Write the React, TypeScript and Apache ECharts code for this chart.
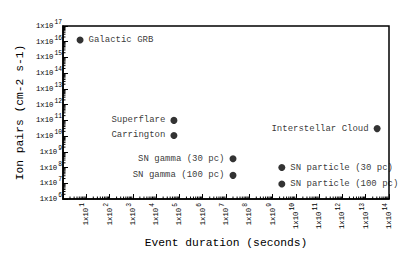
import React, { useEffect, useRef } from "react";
import * as echarts from "echarts";

const eventNames = [
  "Galactic GRB",
  "Superflare",
  "Carrington",
  "SN gamma (30 pc)",
  "SN gamma (100 pc)",
  "SN particle (30 pc)",
  "SN particle (100 pc)",
  "Interstellar Cloud",
];
const durations = [5.4, 5.8e4, 5.8e4, 2.0e7, 2.0e7, 2.5e9, 2.5e9, 3.1e13];
const ionPairs = [1.3e16, 1.0e11, 1.1e10, 3.6e8, 3.2e7, 1.0e8, 9.0e6, 3.0e10];
const labelSides = ["right", "left", "left", "left", "left", "right", "right", "left"];

const xMin = 1;
const xMax = 1e14;
const yMin = 1e6;
const yMax = 1e17;
const xDecades = [0, 1, 2, 3, 4, 5, 6, 7, 8, 9, 10, 11, 12, 13];
const yDecades = [6, 7, 8, 9, 10, 11, 12, 13, 14, 15, 16];
const minorMultipliers = [2, 3, 4, 5, 6, 7, 8, 9];

const FONT = "Liberation Mono";

function supLabel(v: number) {
  const e = Math.round(Math.log10(v));
  return "1x10{s|" + e + "}";
}

const richSup = {
  s: {
    fontSize: 6.3,
    lineHeight: 6,
    verticalAlign: "top" as const,
    fontFamily: FONT,
    color: "#000",
    padding: [0, 0, 0, 1],
  },
};

export default function App() {
  const ref = useRef<HTMLDivElement>(null);
  useEffect(() => {
    document.body.style.margin = "0";
    const chart = echarts.init(ref.current!, undefined, { renderer: "svg" });

    const minorData: number[][] = [];
    xDecades.forEach((d) =>
      minorMultipliers.forEach((m) => minorData.push([m * Math.pow(10, d), yMin, 0]))
    );
    yDecades.forEach((d) =>
      minorMultipliers.forEach((m) => minorData.push([xMin, m * Math.pow(10, d), 1]))
    );

    chart.setOption({
      animation: false,
      grid: {
        left: 63,
        right: 26,
        top: 26,
        bottom: 50,
        show: true,
        borderColor: "#000",
        borderWidth: 1.5,
      },
      xAxis: {
        type: "log",
        min: xMin,
        max: xMax,
        interval: 1,
        name: "Event duration (seconds)",
        nameLocation: "middle",
        nameGap: 37,
        nameTextStyle: { fontFamily: FONT, fontSize: 11.3, color: "#000" },
        axisLine: { lineStyle: { color: "#000", width: 1.5 } },
        axisTick: { inside: true, length: 5, lineStyle: { color: "#000", width: 1 } },
        splitLine: { show: false },
        minorTick: { show: false },
        axisLabel: {
          rotate: 90,
          margin: 4,
          fontFamily: FONT,
          fontSize: 7.3,
          color: "#000",
          lineHeight: 13,
          formatter: (v: number) => (v <= 1 ? "" : supLabel(v)),
          rich: richSup,
        },
      },
      yAxis: {
        type: "log",
        min: yMin,
        max: yMax,
        interval: 1,
        name: "Ion pairs (cm-2 s-1)",
        nameLocation: "middle",
        nameGap: 35,
        nameTextStyle: { fontFamily: FONT, fontSize: 11.3, color: "#000" },
        axisLine: { lineStyle: { color: "#000", width: 1.5 } },
        axisTick: { inside: true, length: 5, lineStyle: { color: "#000", width: 1 } },
        splitLine: { show: false },
        minorTick: { show: false },
        axisLabel: {
          margin: 1,
          fontFamily: FONT,
          fontSize: 7.3,
          color: "#000",
          lineHeight: 13,
          formatter: (v: number) => supLabel(v),
          rich: richSup,
        },
      },
      series: [
        {
          type: "custom",
          silent: true,
          clip: false,
          data: minorData,
          renderItem: (params: any, api: any) => {
            const p = api.coord([api.value(0), api.value(1)]);
            const horiz = api.value(2) === 1;
            return {
              type: "line",
              shape: horiz
                ? { x1: p[0], y1: p[1], x2: p[0] + 2.5, y2: p[1] }
                : { x1: p[0], y1: p[1], x2: p[0], y2: p[1] - 2.5 },
              style: { stroke: "#000", lineWidth: 1 },
            };
          },
        },
        {
          type: "scatter",
          symbol: "circle",
          symbolSize: 7,
          itemStyle: { color: "#000" },
          label: {
            show: true,
            distance: 5,
            fontFamily: FONT,
            fontSize: 9,
            color: "#000",
            formatter: (p: any) => p.name,
          },
          data: eventNames.map((n, i) => ({
            name: n,
            value: [durations[i], ionPairs[i]],
            label: { position: labelSides[i] },
          })),
        },
      ],
    });
    return () => chart.dispose();
  }, []);
  return (
    <div
      ref={ref}
      style={{ position: "absolute", left: 0, top: 0, width: 415, height: 253 }}
    />
  );
}
